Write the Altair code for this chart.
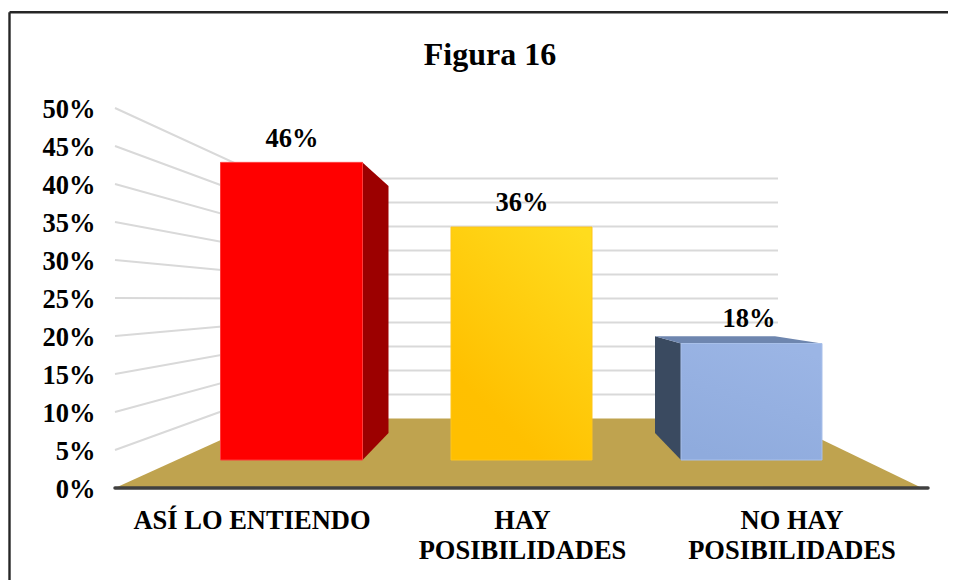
import altair as alt
import pandas as pd

categories = ["ASÍ LO ENTIENDO", "HAY\nPOSIBILIDADES", "NO HAY\nPOSIBILIDADES"]
values = [46, 36, 18]
value_labels = ["46%", "36%", "18%"]
ticks = [0, 5, 10, 15, 20, 25, 30, 35, 40, 45, 50]
title_text = "Figura 16"

FONT = "Liberation Serif"
X0, X1 = 115, 922          # plot area in page pixels
Y0, Y50 = 488, 108
PX = (Y0 - Y50) / 50


def yv(base, scale, v):
    """Project a value lying on a depth plane onto the front value scale."""
    return (Y0 - (base - scale * v)) / PX


FRONT = (460, 6.47)   # plane of the bars' front faces
REAR = (433, 5.37)    # plane of the bars' rear faces
WALL = (418.5, 4.8)   # back wall

bar_left = [220.5, 451, 681]
bar_right = [362.5, 592, 822]
side_x = [388.5, None, 655]
label_x = [252, 522.5, 792]
value_x = [292, 522, 749]
value_gap = [15, 16, 17]

x = alt.X("x:Q", scale=alt.Scale(domain=[X0, X1], range=[0, X1 - X0]), axis=None)
y_axis = alt.Axis(values=ticks, labelExpr="datum.value + '%'", title=None, domain=False,
                  ticks=False, grid=False, labelFont=FONT, labelFontSize=26.5,
                  labelFontWeight="bold", labelColor="#000000", labelPadding=20,
                  labelBaseline="middle", labelOverlap=False, labelOffset=1)
yq = alt.Y("y:Q", scale=alt.Scale(domain=[0, 50], range=[Y0 - Y50, 0]), axis=y_axis)

# Floor
floor = alt.Chart(pd.DataFrame({
    "y": [0, yv(*WALL, 0)], "x": [X0, 268], "x2": [X1, 778]
})).mark_area(orient="horizontal", color="#BFA34F").encode(y=yq, x=x, x2="x2:Q")

# Gridlines: left wall and back wall
rows = []
for t in ticks[1:]:
    rows += [
        {"t": t, "o": 0, "x": X0, "y": t},
        {"t": t, "o": 1, "x": 268, "y": yv(*WALL, t)},
        {"t": t, "o": 2, "x": 778, "y": yv(*WALL, t)},
    ]
grid = alt.Chart(pd.DataFrame(rows)).mark_line(color="#D9D9D9", strokeWidth=2).encode(
    x=x, y=yq, detail="t:N", order="o:Q")


def front(i, fill, stroke):
    return alt.Chart(pd.DataFrame({
        "x": [bar_left[i]], "x2": [bar_right[i]],
        "y": [yv(*FRONT, 0)], "y2": [yv(*FRONT, values[i])],
    })).mark_rect(color=fill, stroke=stroke, strokeWidth=1).encode(x=x, x2="x2:Q", y=yq, y2="y2:Q")


red_side = alt.Chart(pd.DataFrame({
    "x": [bar_right[0], side_x[0]],
    "y": [yv(*FRONT, 0), yv(*REAR, 0)],
    "y2": [yv(*FRONT, values[0]), yv(*REAR, values[0])],
})).mark_area(color="#9C0000").encode(x=x, y=yq, y2="y2:Q")
red = front(0, "#FF0000", "#FF3B3B")
amber = front(1, alt.Gradient(gradient="linear",
                              stops=[alt.GradientStop(color="#FFDC1E", offset=0),
                                     alt.GradientStop(color="#FFC000", offset=0.85),
                                     alt.GradientStop(color="#FFBF00", offset=1)],
                              x1=0.9, y1=0, x2=0.3, y2=1), "#FFC51A")
blue_side = alt.Chart(pd.DataFrame({
    "x": [side_x[2], bar_left[2]],
    "y": [yv(*REAR, 0), yv(*FRONT, 0)],
    "y2": [yv(*REAR, values[2]), yv(*FRONT, values[2])],
})).mark_area(color="#3A4A60").encode(x=x, y=yq, y2="y2:Q")
blue = front(2, alt.Gradient(gradient="linear",
                             stops=[alt.GradientStop(color="#9BB5E5", offset=0),
                                    alt.GradientStop(color="#8FABDD", offset=1)],
                             x1=0.7, y1=0, x2=0.3, y2=1), "#A9C0EA")

# Top face of the blue bar
blue_top = alt.Chart(pd.DataFrame({
    "y": [yv(*FRONT, values[2]), yv(*REAR, values[2])],
    "x": [bar_left[2], side_x[2]],
    "x2": [bar_right[2], 775],
})).mark_area(orient="horizontal", color="#6E86AF").encode(y=yq, x=x, x2="x2:Q")

axis_line = alt.Chart(pd.DataFrame({"x": [X0], "x2": [928], "y": [0]})).mark_rule(
    color="#404040", strokeWidth=3.5, strokeCap="round").encode(x=x, x2="x2:Q", y=yq)

# Value labels
value_df = pd.DataFrame({
    "x": value_x,
    "y": [yv(*FRONT, v) + g / PX for v, g in zip(values, value_gap)],
    "t": value_labels,
})
value_text = alt.Chart(value_df).mark_text(
    font=FONT, fontSize=26.5, fontWeight="bold", color="#000000", baseline="alphabetic"
).encode(x=x, y=yq, text="t:N")

# Category labels
cat_df = pd.DataFrame({"x": label_x, "y": [-4.35] * 3, "t": categories})
cat_text = alt.Chart(cat_df).mark_text(
    font=FONT, fontSize=26.5, fontWeight="bold", color="#000000", baseline="middle",
    lineBreak="\n", lineHeight=30
).encode(x=x, y=yq, text="t:N")

# Title
title_df = pd.DataFrame({"x": [490], "y": [57], "t": [title_text]})
title = alt.Chart(title_df).mark_text(
    font=FONT, fontSize=32, fontWeight="bold", color="#000000", baseline="middle"
).encode(x=x, y=yq, text="t:N")

# Outer frame: top and left edges run off the picture
frame_df = pd.DataFrame({"x": [9.5, 9.5], "x2": [960, 9.5], "y": [62.6, 62.6], "y2": [62.6, -14]})
frame = alt.Chart(frame_df).mark_rule(color="#262626", strokeWidth=2.4).encode(
    x=x, x2="x2:Q", y=yq, y2="y2:Q")

chart = alt.layer(floor, grid, red_side, red, amber, blue_side, blue_top, blue,
                  axis_line, value_text, cat_text, title, frame).properties(
    width=X1 - X0, height=Y0 - Y50,
    autosize=alt.AutoSizeParams(type="none"),
    padding={"left": X0 - 8, "top": Y50 - 8, "right": 940 - (X1 - X0) - (X0 - 8), "bottom": 572 - (Y0 - 8)},
    background="#FFFFFF",
).configure_view(stroke=None)

chart.save("out.html", embed_options={"renderer": "svg", "actions": False})
